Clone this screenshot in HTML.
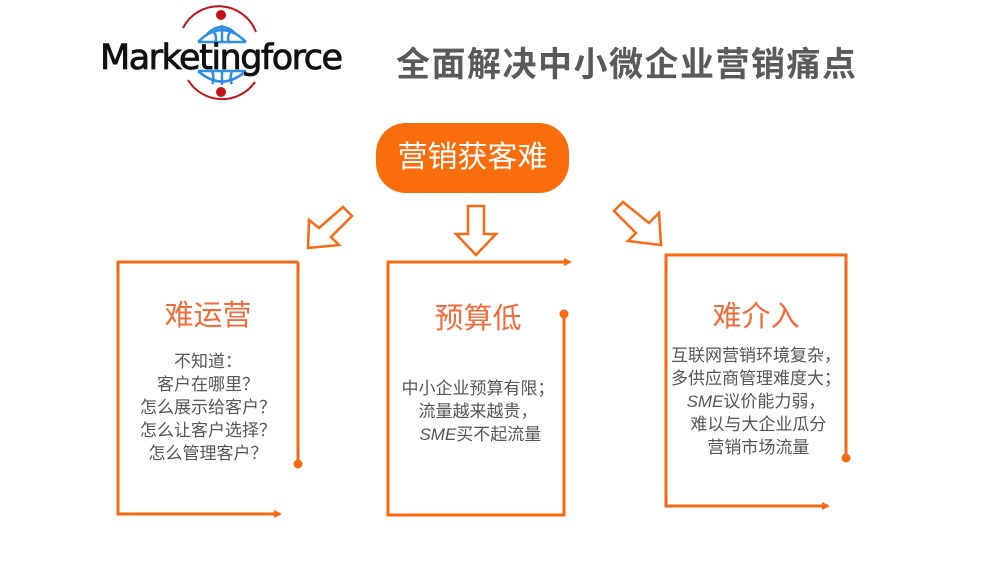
<!DOCTYPE html>
<html><head><meta charset="utf-8"><style>
body{margin:0;width:995px;height:561px;background:#fff;position:relative;overflow:hidden;font-family:"Liberation Sans","Noto Sans CJK SC",sans-serif}
.a{position:absolute;white-space:nowrap}
.t{color:#f26b3a;font-size:29px;text-align:center}
.b{color:#555;font-size:17px;line-height:23px;text-align:center}
</style></head><body>
<svg width="995" height="561" style="position:absolute;left:0;top:0">
<defs><marker id="ar" markerWidth="8" markerHeight="8" refX="6" refY="4" orient="auto" markerUnits="userSpaceOnUse"><path d="M0,0L8,4L0,8z" fill="#f96a10"/></marker></defs>
<path d="M183,28 A40,40 0 0 1 256,32" stroke="#c0141b" stroke-width="2" fill="none"/>
<path d="M188,80 A40,40 0 0 0 255,82" stroke="#c0141b" stroke-width="2" fill="none"/>
<circle cx="221" cy="15" r="5" fill="#c0141b"/>
<circle cx="221" cy="92" r="5" fill="#c0141b"/>
<path d="M198,42 Q222,18 246,42 M207,34 Q222,20 236,34 M222,25 L222,42 M212,30 Q218,36 215,42 M232,30 Q226,36 229,42 M198,42 L246,42" stroke="#2d8fe6" stroke-width="2.5" fill="none"/>
<path d="M198,71 Q222,92 246,71 M198,71 L246,71 M222,71 L222,85 M212,71 Q215,80 212,84 M232,71 Q229,80 232,84" stroke="#2d8fe6" stroke-width="2.5" fill="none"/>
<g stroke="#f96a10" stroke-width="3" fill="none">
<polyline points="298,262 118,262 118,514 280,514" marker-end="url(#ar)"/>
<line x1="298" y1="262" x2="298" y2="464"/>
<polyline points="564,314 564,515 388,515 388,262 570,262" marker-end="url(#ar)"/>
<polyline points="846,458 846,255 666,255 666,506 828,506" marker-end="url(#ar)"/>
</g>
<circle cx="298" cy="464" r="4.5" fill="#f96a10"/>
<circle cx="564" cy="314" r="4.5" fill="#f96a10"/>
<circle cx="846" cy="458" r="4.5" fill="#f96a10"/>
<g stroke="#f96a10" stroke-width="2.5" fill="#fff" stroke-linejoin="miter">
<polygon points="468,206 484,206 484,234 496,234 476,255 456,234 468,234"/>
<polygon points="343,207 352,216 331,237 339,245 308,248 309,220 319,228"/>
<polygon points="623,202 614,211 636,233 628,241 661,245 659,213 649,223"/>
</g>
</svg>
<div class="a" style="left:100px;top:38px;font-size:35px;font-family:'DejaVu Sans',sans-serif;color:#111;letter-spacing:-1.5px;-webkit-text-stroke:0.8px #111">Marketingforce</div>
<div class="a" style="left:396px;top:40px;font-size:34px;font-weight:bold;color:#5a5a5a;letter-spacing:1.5px;font-family:'Noto Sans CJK SC',sans-serif;line-height:44px">全面解决中小微企业营销痛点</div>
<div class="a" style="left:376px;top:123px;width:193px;height:70px;border-radius:30px;background:#fa6d0c;color:#fff;font-size:30px;line-height:70px;text-align:center">营销获客难</div>
<div class="a t" style="left:118px;width:180px;top:292px">难运营</div>
<div class="a b" style="left:118px;width:180px;top:350px">不知道：<br>客户在哪里？<br>怎么展示给客户？<br>怎么让客户选择？<br>怎么管理客户？</div>
<div class="a t" style="left:388px;width:180px;top:295px">预算低</div>
<div class="a b" style="left:383px;width:190px;top:377px">中小企业预算有限；<br>流量越来越贵，<br>&nbsp;<i>SME</i>买不起流量</div>
<div class="a t" style="left:666px;width:180px;top:293px">难介入</div>
<div class="a b" style="left:661px;width:190px;top:344px;line-height:23px">互联网营销环境复杂，<br>多供应商管理难度大；<br><i>SME</i>议价能力弱，<br>&nbsp;难以与大企业瓜分<br>&nbsp;营销市场流量</div>
</body></html>
